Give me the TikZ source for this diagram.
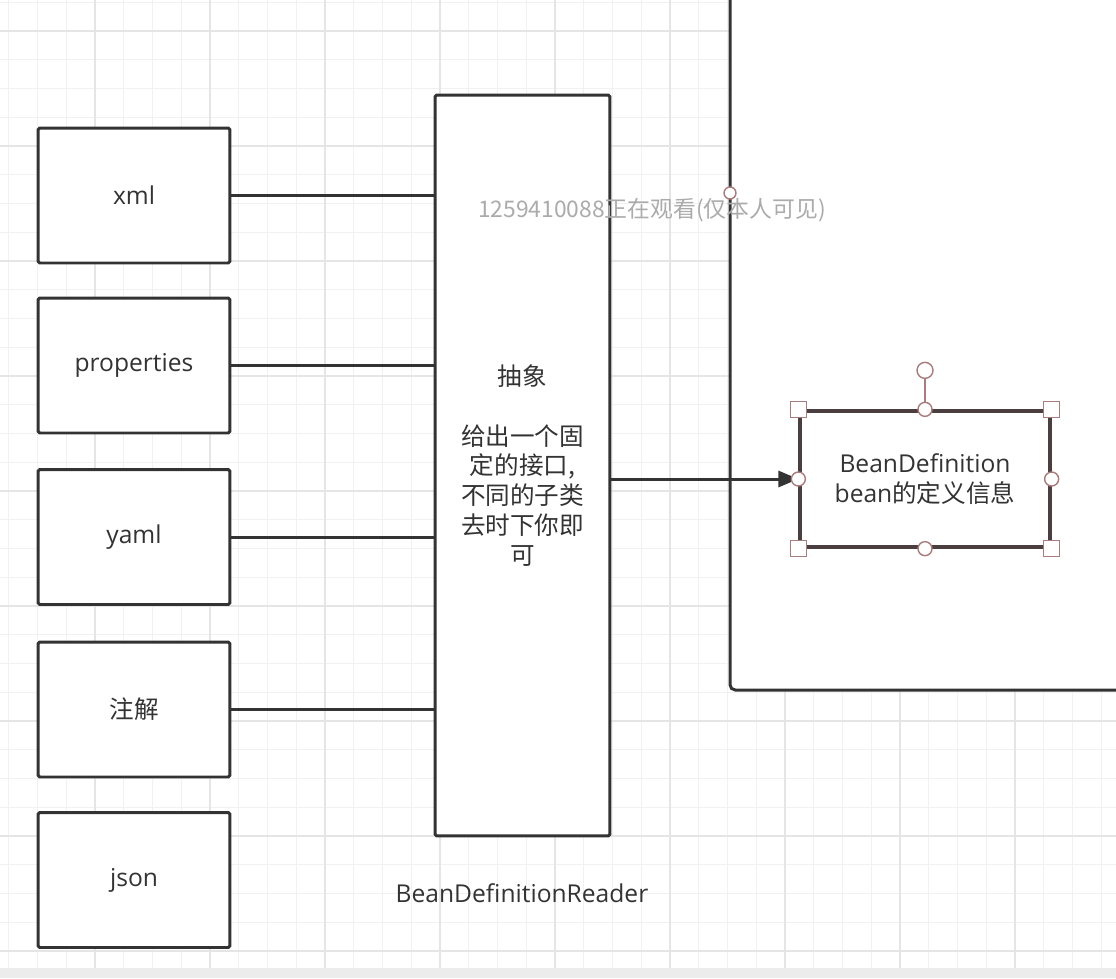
\documentclass[tikz,border=0pt]{standalone}
\usepackage{fontspec}
\setmainfont{Open Sans}
\newfontfamily\cjk{Noto Sans CJK SC}
\usetikzlibrary{arrows.meta}
\definecolor{ink}{HTML}{333333}
\definecolor{gridminor}{HTML}{F1F1F1}
\definecolor{gridmajor}{HTML}{E5E5E5}
\definecolor{selpink}{HTML}{A87C7C}
\definecolor{beanline}{HTML}{4A3E3E}
\definecolor{barfill}{HTML}{ECECEC}
\definecolor{wmgray}{HTML}{ABABAB}

\begin{document}
\begin{tikzpicture}[x=0.02cm,y=-0.02cm,
	txt/.style={text=ink,font=\fontsize{14pt}{17pt}\selectfont},
	source/.style={txt,draw=ink,line width=1.7pt,fill=white,rounded corners=1pt,minimum width=3.84cm,minimum height=2.7cm,inner sep=0pt},
	reader/.style={txt,draw=ink,line width=1.7pt,fill=white,rounded corners=1pt,minimum width=3.5cm,minimum height=14.82cm,align=center,inner sep=0pt},
	defbox/.style={txt,draw=beanline,line width=1.9pt,fill=white,minimum width=5cm,minimum height=2.72cm,align=center,inner sep=0pt},
	link/.style={ink,line width=1.7pt},
	handle/.style={draw=selpink,fill=white,line width=0.8pt},
	minor/.style={gridminor,line width=0.5pt},
	major/.style={gridmajor,line width=0.9pt}]
	\useasboundingbox (0,0) rectangle (1116,978);
	\clip (0,0) rectangle (1116,978);
	% grid
	\foreach \i in {0,...,40} \draw[minor] ({-20+28.75*\i},0) -- ({-20+28.75*\i},978);
	\foreach \i in {0,...,35} \draw[minor] (0,{2.25+28.75*\i}) -- (1116,{2.25+28.75*\i});
	\foreach \i in {0,...,10} \draw[major] ({-20+115*\i},0) -- ({-20+115*\i},978);
	\foreach \i in {0,...,8} \draw[major] (0,{31+115*\i}) -- (1116,{31+115*\i});
	\fill[barfill] (0,968) rectangle (1116,978);
	% container
	\draw[ink,line width=1.7pt,fill=white,rounded corners=3pt] (730,-20) rectangle (1140,690);
	\draw[handle] (730,193) circle[radius=0.12cm];
	% sources
	\node[source] (xml) at (134,195.5){xml};
	\node[source] (prop) at (134,365.5){properties};
	\node[source] (yaml) at (134,537){yaml};
	\node[source] (anno) at (134,709.5){\cjk 注解};
	\node[source] (json) at (134,880){json};
	\node[reader] (rdr) at (522.5,465.5){\cjk 抽象\\[17pt]\cjk 给出一个固\\\cjk 定的接口,\\\cjk 不同的子类\\\cjk 去时下你即\\\cjk 可};
	\node[txt] (rdrname) at (522,893){BeanDefinitionReader};
	\node[defbox] (bean) at (925,479){BeanDefinition\\bean{\cjk 的定义信息}};
	\draw (xml.east) edge[link] (xml.east -| rdr.west);
	\draw (prop.east) edge[link] (prop.east -| rdr.west);
	\draw (yaml.east) edge[link] (yaml.east -| rdr.west);
	\draw (anno.east) edge[link] (anno.east -| rdr.west);
	\draw (bean.west -| rdr.east) edge[link,-{Triangle[length=0.4cm,width=0.32cm]}] (bean.west);
	% selection handles
	\coordinate (rot) at ([yshift=0.78cm]bean.north);
	\draw[selpink,line width=0.8pt] (bean.north) -- (rot);
	\draw[handle] (rot) circle[radius=0.16cm];
	\foreach \a in {north west,north east,south west,south east}
		\draw[handle] ([shift={(-8,-8)}]bean.\a) rectangle ([shift={(8,8)}]bean.\a);
	\foreach \a in {north,south,east,west}
		\draw[handle] (bean.\a) circle[radius=0.14cm];
	% watermark
	\node[text=wmgray,font=\cjk\fontsize{13pt}{15pt}\selectfont] (wm) at (652,210){1259410088正在观看(仅本人可见)};
\end{tikzpicture}
\end{document}
